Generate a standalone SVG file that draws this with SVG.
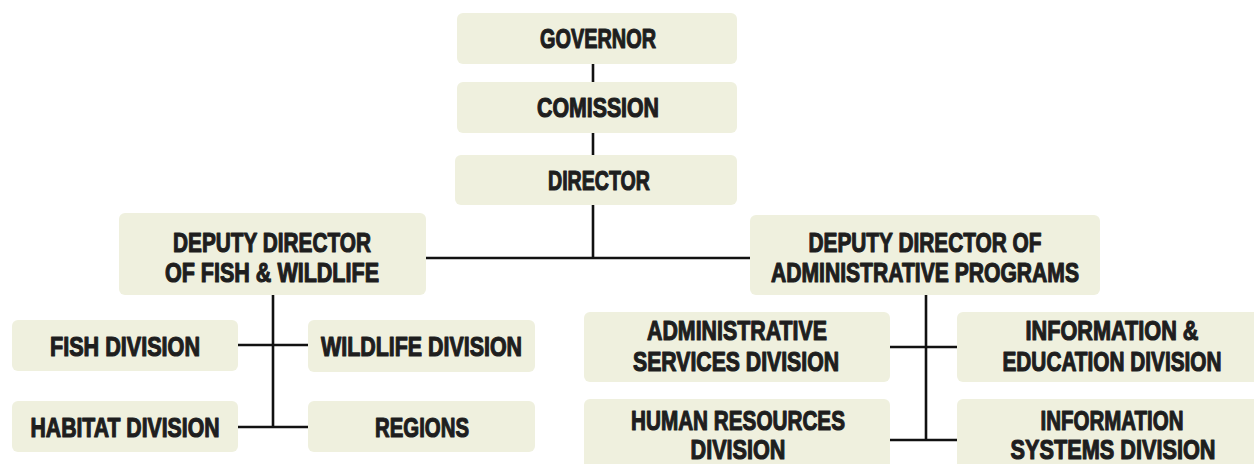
<svg xmlns="http://www.w3.org/2000/svg" width="1254" height="464" viewBox="0 0 1254 464">
  <style>
    .box { fill: #eff0de; }
    .lbl { font-family: "Liberation Sans", Arial, sans-serif; font-weight: bold; font-size: 28px; fill: #1e1e1e; stroke: #1e1e1e; stroke-width: 1.2; stroke-linejoin: round; text-anchor: middle; }
    .conn { stroke: #111; stroke-width: 2.6; fill: none; }
  </style>
  <rect width="1254" height="464" fill="#ffffff"/>

  <!-- connectors -->
  <g id="connectors" class="conn">
    <line x1="593" y1="64" x2="593" y2="82"/>
    <line x1="593" y1="133" x2="593" y2="155"/>
    <line x1="593" y1="205" x2="593" y2="258"/>
    <line x1="426" y1="258" x2="750" y2="258"/>
    <line x1="273" y1="295" x2="273" y2="427"/>
    <line x1="238" y1="345" x2="308" y2="345"/>
    <line x1="238" y1="427" x2="308" y2="427"/>
    <line x1="926" y1="295" x2="926" y2="440"/>
    <line x1="890" y1="347" x2="957" y2="347"/>
    <line x1="890" y1="440" x2="957" y2="440"/>
  </g>

  <g id="governor">
    <rect class="box" x="457" y="13" width="280" height="51" rx="6"/>
    <text class="lbl" x="598" y="48" textLength="116" lengthAdjust="spacingAndGlyphs">GOVERNOR</text>
  </g>
  <g id="commission">
    <rect class="box" x="457" y="82" width="280" height="51" rx="6"/>
    <text class="lbl" x="598" y="117" textLength="122" lengthAdjust="spacingAndGlyphs">COMISSION</text>
  </g>
  <g id="director">
    <rect class="box" x="455" y="155" width="282" height="50" rx="6"/>
    <text class="lbl" x="599" y="190" textLength="102" lengthAdjust="spacingAndGlyphs">DIRECTOR</text>
  </g>

  <g id="deputy-fish-wildlife">
    <rect class="box" x="119" y="213" width="307" height="82" rx="6"/>
    <text class="lbl" x="272" y="252" textLength="198" lengthAdjust="spacingAndGlyphs">DEPUTY DIRECTOR</text>
    <text class="lbl" x="272" y="281.5" textLength="214" lengthAdjust="spacingAndGlyphs">OF FISH &amp; WILDLIFE</text>
  </g>
  <g id="deputy-admin">
    <rect class="box" x="750" y="215" width="350" height="80" rx="6"/>
    <text class="lbl" x="925" y="252" textLength="233" lengthAdjust="spacingAndGlyphs">DEPUTY DIRECTOR OF</text>
    <text class="lbl" x="925" y="281.5" textLength="308" lengthAdjust="spacingAndGlyphs">ADMINISTRATIVE PROGRAMS</text>
  </g>

  <g id="fish-division">
    <rect class="box" x="12" y="320" width="226" height="51" rx="6"/>
    <text class="lbl" x="125" y="356" textLength="150" lengthAdjust="spacingAndGlyphs">FISH DIVISION</text>
  </g>
  <g id="wildlife-division">
    <rect class="box" x="308" y="320" width="227" height="52" rx="6"/>
    <text class="lbl" x="421.5" y="356" textLength="201" lengthAdjust="spacingAndGlyphs">WILDLIFE DIVISION</text>
  </g>
  <g id="habitat-division">
    <rect class="box" x="12" y="401" width="226" height="51" rx="6"/>
    <text class="lbl" x="125" y="437" textLength="189" lengthAdjust="spacingAndGlyphs">HABITAT DIVISION</text>
  </g>
  <g id="regions">
    <rect class="box" x="308" y="401" width="227" height="51" rx="6"/>
    <text class="lbl" x="422" y="437" textLength="94" lengthAdjust="spacingAndGlyphs">REGIONS</text>
  </g>

  <g id="admin-services">
    <rect class="box" x="584" y="312" width="306" height="70" rx="6"/>
    <text class="lbl" x="737" y="340" textLength="180" lengthAdjust="spacingAndGlyphs">ADMINISTRATIVE</text>
    <text class="lbl" x="736" y="371" textLength="206" lengthAdjust="spacingAndGlyphs">SERVICES DIVISION</text>
  </g>
  <!-- boxes running off the right / bottom edge: square corners at the edge -->
  <g id="info-education">
    <path class="box" d="M963 312 H1254 V382 H963 A6 6 0 0 1 957 376 V318 A6 6 0 0 1 963 312 Z"/>
    <text class="lbl" x="1112" y="340" textLength="173" lengthAdjust="spacingAndGlyphs">INFORMATION &amp;</text>
    <text class="lbl" x="1112" y="371" textLength="219" lengthAdjust="spacingAndGlyphs">EDUCATION DIVISION</text>
  </g>
  <g id="human-resources">
    <path class="box" d="M590 399 H884 A6 6 0 0 1 890 405 V464 H584 V405 A6 6 0 0 1 590 399 Z"/>
    <text class="lbl" x="738" y="430" textLength="214" lengthAdjust="spacingAndGlyphs">HUMAN RESOURCES</text>
    <text class="lbl" x="738" y="459" textLength="95" lengthAdjust="spacingAndGlyphs">DIVISION</text>
  </g>
  <g id="info-systems">
    <path class="box" d="M963 399 H1254 V464 H957 V405 A6 6 0 0 1 963 399 Z"/>
    <text class="lbl" x="1112" y="430" textLength="143" lengthAdjust="spacingAndGlyphs">INFORMATION</text>
    <text class="lbl" x="1113" y="459" textLength="205" lengthAdjust="spacingAndGlyphs">SYSTEMS DIVISION</text>
  </g>
</svg>
